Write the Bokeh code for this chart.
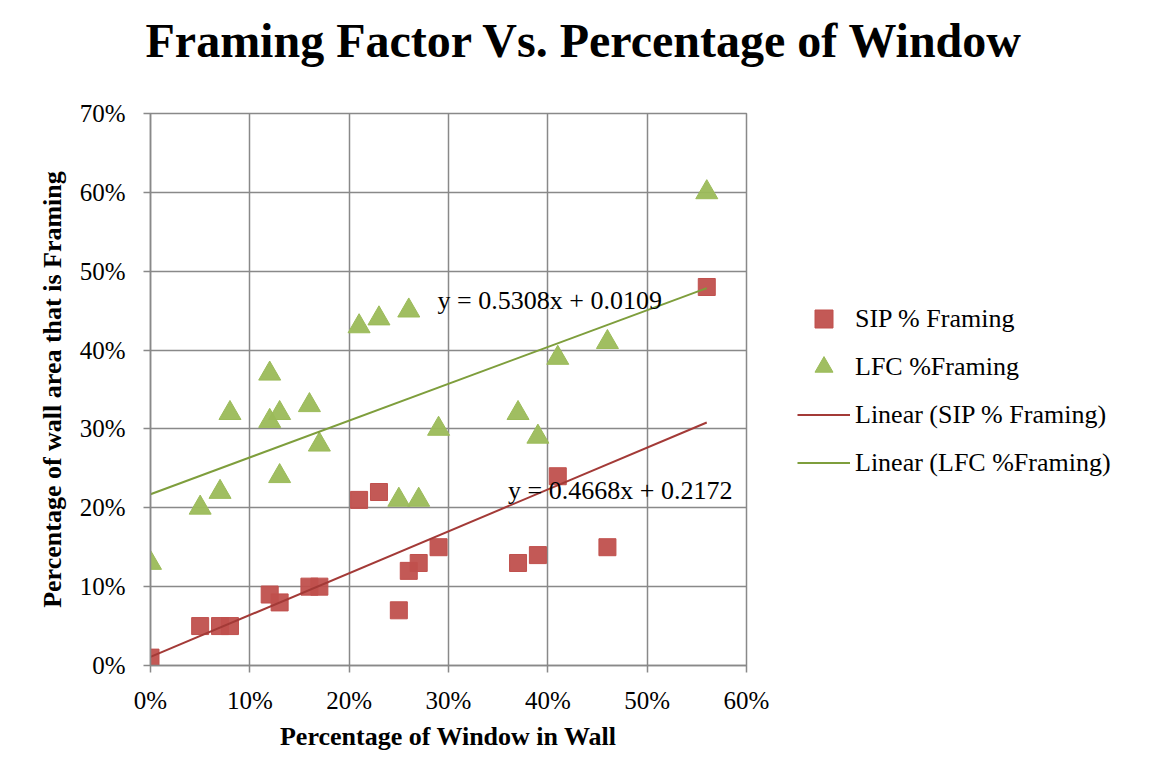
from bokeh.plotting import figure
from bokeh.models import (ColumnDataSource, Legend, LegendItem, Label, FixedTicker,
                          NumeralTickFormatter, Range1d, Title)
from bokeh.embed import file_html
from bokeh.resources import INLINE

# ---- data ----
sip_x = [0.00, 0.05, 0.07, 0.08, 0.12, 0.13, 0.16, 0.17, 0.21, 0.23, 0.25, 0.26, 0.27, 0.29, 0.37, 0.39, 0.41, 0.46, 0.56]
sip_y = [0.01, 0.05, 0.05, 0.05, 0.09, 0.08, 0.10, 0.10, 0.21, 0.22, 0.07, 0.12, 0.13, 0.15, 0.13, 0.14, 0.24, 0.15, 0.48]
lfc_x = [0.00, 0.05, 0.07, 0.08, 0.12, 0.12, 0.13, 0.13, 0.16, 0.17, 0.21, 0.23, 0.25, 0.26, 0.27, 0.29, 0.37, 0.39, 0.41, 0.46, 0.56]
lfc_y = [0.13, 0.20, 0.22, 0.32, 0.37, 0.31, 0.32, 0.24, 0.33, 0.28, 0.43, 0.44, 0.21, 0.45, 0.21, 0.30, 0.32, 0.29, 0.39, 0.41, 0.60]
sip_slope, sip_intercept = 0.5308, 0.0109
lfc_slope, lfc_intercept = 0.4668, 0.2172
trend_x = [0.0, 0.56]
x_ticks = [0.0, 0.1, 0.2, 0.3, 0.4, 0.5, 0.6]
y_ticks = [0.0, 0.1, 0.2, 0.3, 0.4, 0.5, 0.6, 0.7]
title_text = "Framing Factor Vs. Percentage of Window"
x_title = "Percentage of Window in Wall"
y_title = "Percentage of wall area that is Framing"
eq_labels = ["y = 0.5308x + 0.0109", "y = 0.4668x + 0.2172"]
series_names = ["SIP % Framing", "LFC %Framing", "Linear (SIP % Framing)", "Linear (LFC %Framing)"]

RED = "#C0504D"
GREEN = "#9BBB59"
RED_LINE = "#A33A37"
GREEN_LINE = "#7E9E3C"
GRID = "#898989"
FONT = "Liberation Serif"

p = figure(width=1149, height=772, output_backend="svg", toolbar_location=None, title=None,
           x_range=Range1d(0, 0.6), y_range=Range1d(0, 0.7),
           min_border_left=150, min_border_top=113, min_border_right=403, min_border_bottom=107,
           frame_width=596, frame_height=552)
p.background_fill_color = "white"
p.border_fill_color = "white"
p.outline_line_color = GRID
p.outline_line_width = 1.5

# spacer panel between the frame and the title
p.add_layout(Title(text=" ", text_font_size="10px", standoff=34), "above")
p.add_layout(Title(text=title_text, text_font=FONT, text_font_size="48px", text_font_style="bold",
                   text_color="black", align="left", offset=-5, standoff=0), "above")

for ax, ticks in ((p.xaxis[0], x_ticks), (p.yaxis[0], y_ticks)):
    ax.ticker = FixedTicker(ticks=ticks)
    ax.formatter = NumeralTickFormatter(format="0%")
    ax.axis_line_color = GRID
    ax.axis_line_width = 1.5
    ax.major_tick_line_color = GRID
    ax.major_tick_line_width = 1.5
    ax.major_tick_out = 7
    ax.major_tick_in = 0
    ax.minor_tick_line_color = None
    ax.major_label_text_font = FONT
    ax.major_label_text_font_size = "25px"
    ax.major_label_text_color = "black"
    ax.axis_label_text_font = FONT
    ax.axis_label_text_font_size = "26px"
    ax.axis_label_text_font_style = "bold"
    ax.axis_label_text_color = "black"

p.xaxis.axis_label = x_title
p.yaxis.axis_label = y_title
p.xaxis.major_label_standoff = 14
p.yaxis.major_label_standoff = 18
p.xaxis.axis_label_standoff = 5
p.yaxis.axis_label_standoff = 10

p.xgrid.ticker = FixedTicker(ticks=x_ticks)
p.ygrid.ticker = FixedTicker(ticks=y_ticks)
p.grid.grid_line_color = GRID
p.grid.grid_line_width = 1.5

sip_src = ColumnDataSource(dict(x=sip_x, y=sip_y))
lfc_src = ColumnDataSource(dict(x=lfc_x, y=lfc_y))
sip_t = ColumnDataSource(dict(x=trend_x, y=[sip_slope * v + sip_intercept for v in trend_x]))
lfc_t = ColumnDataSource(dict(x=trend_x, y=[lfc_slope * v + lfc_intercept for v in trend_x]))

r_sip = p.scatter("x", "y", source=sip_src, marker="square", size=17,
                  fill_color=RED, line_color=RED, fill_alpha=0.95)
r_lfc = p.scatter("x", "y", source=lfc_src, marker="triangle", size=22,
                  fill_color=GREEN, line_color=GREEN, fill_alpha=0.95)
r_sip_t = p.line("x", "y", source=sip_t, line_color=RED_LINE, line_width=2)
r_lfc_t = p.line("x", "y", source=lfc_t, line_color=GREEN_LINE, line_width=2)

legend = Legend(items=[LegendItem(label=series_names[0], renderers=[r_sip]),
                       LegendItem(label=series_names[1], renderers=[r_lfc]),
                       LegendItem(label=series_names[2], renderers=[r_sip_t]),
                       LegendItem(label=series_names[3], renderers=[r_lfc_t])],
                location=(51, 180))
legend.label_text_font = FONT
legend.label_text_font_size = "26px"
legend.label_text_color = "black"
legend.glyph_width = 53
legend.glyph_height = 45
legend.spacing = 3
legend.label_standoff = 5
legend.padding = 0
legend.margin = 0
legend.border_line_color = None
legend.background_fill_alpha = 0
p.add_layout(legend, "right")

p.add_layout(Label(x=0.289, y=0.463, text=eq_labels[0], text_font=FONT, text_font_size="26px",
                   text_baseline="middle", text_align="left", text_color="black"))
p.add_layout(Label(x=0.360, y=0.222, text=eq_labels[1], text_font=FONT, text_font_size="26px",
                   text_baseline="middle", text_align="left", text_color="black"))

open("out.html", "w").write(file_html(p, INLINE))
